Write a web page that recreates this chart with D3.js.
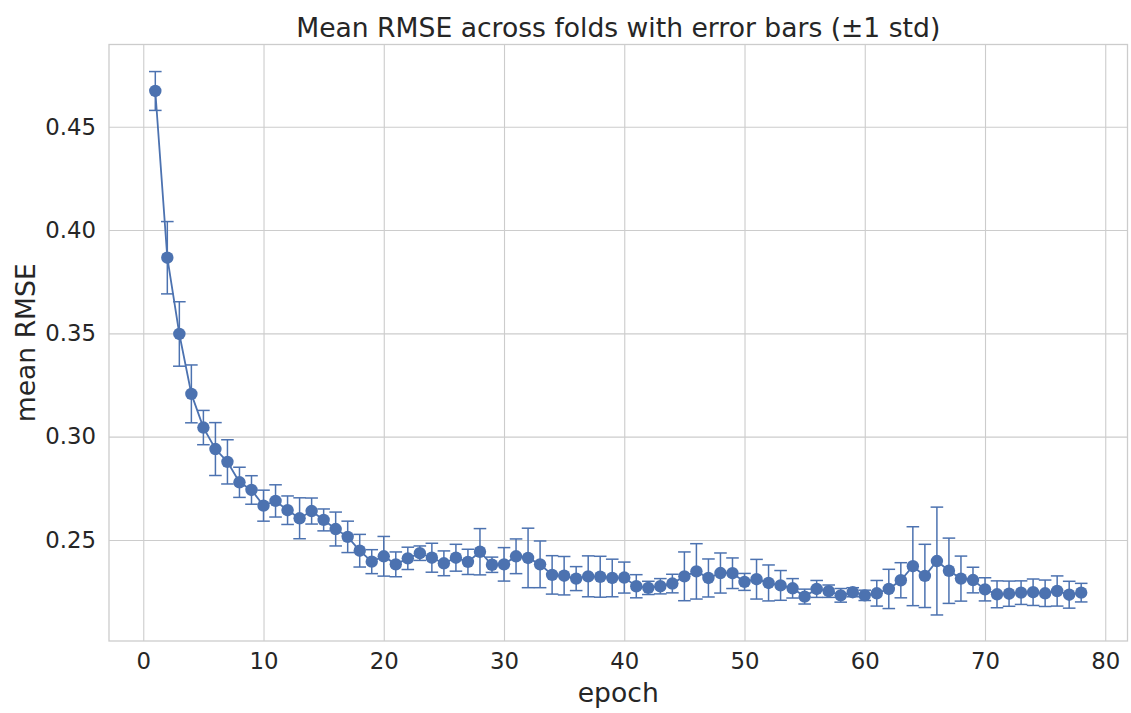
<!DOCTYPE html>
<html>
<head>
<meta charset="utf-8">
<script src="https://cdn.jsdelivr.net/npm/d3@7"></script>
<style>
  html, body { margin: 0; padding: 0; background: #ffffff; }
  svg { display: block; font-family: "DejaVu Sans", sans-serif; }
</style>
</head>
<body>
<svg id="chart" width="1131" height="713"></svg>
<script>
const epochs = d3.range(1, 79);
const meanRMSE = [
  0.4673, 0.3866, 0.3497, 0.3207, 0.3044, 0.2940, 0.2878, 0.2779, 0.2742, 0.2666,
  0.2689, 0.2644, 0.2605, 0.2640, 0.2597, 0.2553, 0.2515, 0.2448, 0.2395, 0.2421,
  0.2382, 0.2411, 0.2436, 0.2414, 0.2387, 0.2414, 0.2394, 0.2443, 0.2380, 0.2382,
  0.2421, 0.2413, 0.2382, 0.2331, 0.2327, 0.2313, 0.2324, 0.2322, 0.2316, 0.2318,
  0.2276, 0.2268, 0.2276, 0.2289, 0.2324, 0.2348, 0.2316, 0.2340, 0.2339, 0.2297,
  0.2310, 0.2292, 0.2280, 0.2266, 0.2226, 0.2263, 0.2252, 0.2232, 0.2247, 0.2232,
  0.2242, 0.2263, 0.2305, 0.2373, 0.2326, 0.2398, 0.2351, 0.2313, 0.2306, 0.2261,
  0.2237, 0.2240, 0.2245, 0.2247, 0.2242, 0.2253, 0.2235, 0.2245
];
const stdRMSE = [
  0.0094, 0.0175, 0.0156, 0.0140, 0.0083, 0.0128, 0.0107, 0.0073, 0.0069, 0.0075,
  0.0078, 0.0069, 0.0099, 0.0063, 0.0053, 0.0082, 0.0076, 0.0079, 0.0058, 0.0096,
  0.0060, 0.0054, 0.0035, 0.0070, 0.0060, 0.0065, 0.0061, 0.0112, 0.0037, 0.0081,
  0.0084, 0.0144, 0.0113, 0.0093, 0.0093, 0.0058, 0.0099, 0.0099, 0.0091, 0.0075,
  0.0056, 0.0032, 0.0037, 0.0045, 0.0118, 0.0134, 0.0092, 0.0097, 0.0074, 0.0041,
  0.0096, 0.0087, 0.0072, 0.0047, 0.0036, 0.0041, 0.0030, 0.0033, 0.0022, 0.0025,
  0.0062, 0.0095, 0.0085, 0.0191, 0.0153, 0.0261, 0.0158, 0.0109, 0.0062, 0.0056,
  0.0065, 0.0061, 0.0057, 0.0064, 0.0064, 0.0073, 0.0065, 0.0045
];
const xTicks = [0, 10, 20, 30, 40, 50, 60, 70, 80];
const yTicks = [0.25, 0.30, 0.35, 0.40, 0.45];
const titleText = "Mean RMSE across folds with error bars (±1 std)";
const xLabelText = "epoch";
const yLabelText = "mean RMSE";

const data = epochs.map((e, i) => ({ e, m: meanRMSE[i], s: stdRMSE[i] }));

const L = 109, R = 1127.5, T = 44.5, B = 641;
const color = "#4c72b0", gridColor = "#cccccc", textColor = "#262626";

const x = d3.scaleLinear().domain([-2.85, 81.85]).range([L, R]);
const y = d3.scaleLinear().domain([0.2011, 0.4898]).range([B, T]);

const svg = d3.select("#chart");

// grid
const gx = svg.append("g").attr("transform", `translate(0,${B})`)
  .call(d3.axisBottom(x).tickValues(xTicks).tickSize(-(B - T)).tickFormat(d3.format("d")).tickPadding(12));
const gy = svg.append("g").attr("transform", `translate(${L},0)`)
  .call(d3.axisLeft(y).tickValues(yTicks).tickSize(-(R - L)).tickFormat(d3.format(".2f")).tickPadding(13));
[gx, gy].forEach(g => {
  g.select(".domain").remove();
  g.selectAll(".tick line").attr("stroke", gridColor).attr("stroke-width", 1.1);
  g.selectAll(".tick text").attr("fill", textColor).attr("font-size", 22.8)
    .attr("font-family", "DejaVu Sans");
});

// frame
svg.append("rect").attr("x", L).attr("y", T).attr("width", R - L).attr("height", B - T)
  .attr("fill", "none").attr("stroke", gridColor).attr("stroke-width", 1.3);

// error bars
const eb = svg.append("g").attr("stroke", color).attr("stroke-width", 1.5);
eb.selectAll("line.v").data(data).join("line").attr("class", "v")
  .attr("x1", d => x(d.e)).attr("x2", d => x(d.e))
  .attr("y1", d => y(d.m - d.s)).attr("y2", d => y(d.m + d.s));
const cap = 6.3;
eb.selectAll("line.ct").data(data).join("line").attr("class", "ct")
  .attr("x1", d => x(d.e) - cap).attr("x2", d => x(d.e) + cap)
  .attr("y1", d => y(d.m + d.s)).attr("y2", d => y(d.m + d.s));
eb.selectAll("line.cb").data(data).join("line").attr("class", "cb")
  .attr("x1", d => x(d.e) - cap).attr("x2", d => x(d.e) + cap)
  .attr("y1", d => y(d.m - d.s)).attr("y2", d => y(d.m - d.s));

// line
svg.append("path").datum(data)
  .attr("fill", "none").attr("stroke", color).attr("stroke-width", 1.8)
  .attr("d", d3.line().x(d => x(d.e)).y(d => y(d.m)));

// markers
svg.append("g").selectAll("circle").data(data).join("circle")
  .attr("cx", d => x(d.e)).attr("cy", d => y(d.m)).attr("r", 6.2)
  .attr("fill", color);

// title and labels
svg.append("text").attr("x", (L + R) / 2).attr("y", 37).attr("text-anchor", "middle")
  .attr("fill", textColor).attr("font-size", 26.6).text(titleText);
svg.append("text").attr("x", (L + R) / 2).attr("y", 702).attr("text-anchor", "middle")
  .attr("fill", textColor).attr("font-size", 26.6).text(xLabelText);
svg.append("text").attr("transform", `translate(35,${(T + B) / 2}) rotate(-90)`)
  .attr("text-anchor", "middle").attr("fill", textColor).attr("font-size", 26.6).text(yLabelText);
</script>
</body>
</html>
